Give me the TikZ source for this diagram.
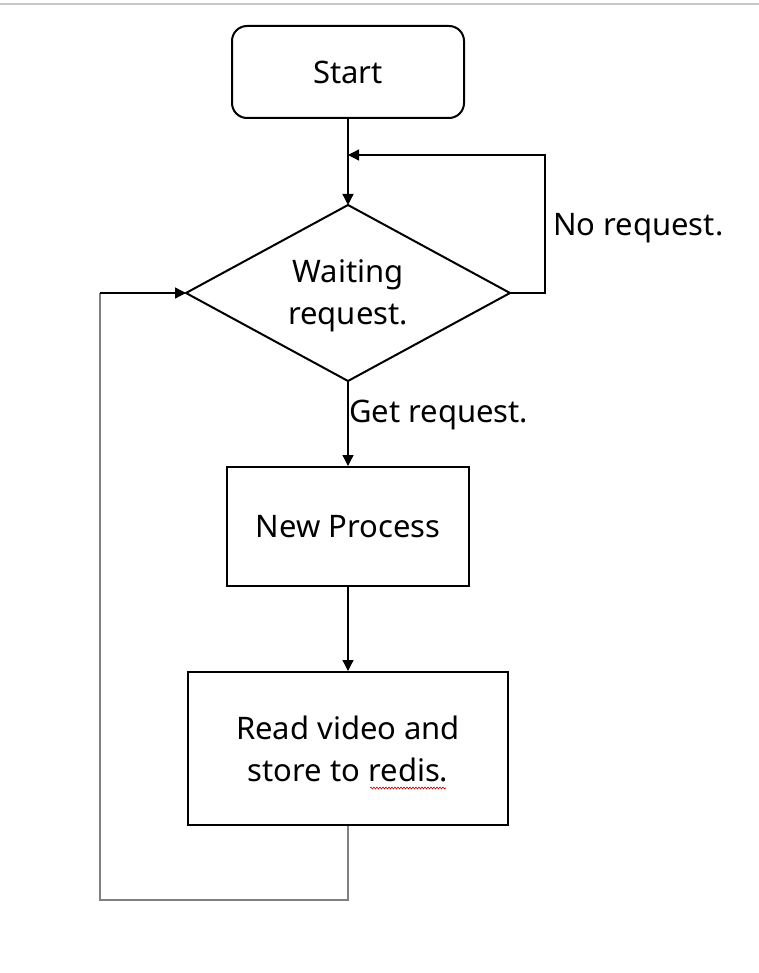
\documentclass[tikz,border=0pt]{standalone}
\usepackage{fontspec}
\setmainfont{Noto Sans}
\usetikzlibrary{arrows.meta,decorations.pathmorphing}
\begin{document}
\begin{tikzpicture}[x=1pt,y=-1pt,
  box/.style={draw=black,line width=2pt,inner sep=0pt},
  conn/.style={draw=black,line width=1.3pt,-{Triangle[length=11pt,width=11pt]}},
  loopline/.style={draw=gray,line width=1.8pt},
  txt/.style={font=\fontsize{31}{42}\selectfont,align=center,inner sep=0pt}]
\useasboundingbox (0,0) rectangle (759,973);
\draw[draw=black!22,line width=1.5pt] (0,4) -- (759,4);
% nodes
\node[box,rounded corners=15pt,minimum width=232pt,minimum height=92pt,txt] (start) at (348,72) {Start};
\coordinate (dtop) at (348,205);
\coordinate (dleft) at (186,293);
\coordinate (dright) at (510,293);
\coordinate (dbot) at (348,381);
\draw[line width=2pt,line join=miter] (dtop) -- (dright) -- (dbot) -- (dleft) -- cycle;
\node[txt] (wait) at (348,296) {Waiting\\request.};
\node[box,minimum width=242pt,minimum height=119pt,txt] (newp) at (348,526.5) {New Process};
\node[box,minimum width=320pt,minimum height=153pt,txt] (read) at (348,748.5) {Read video and\\store to redis.};
% squiggle under redis
\draw[red!80!black,line width=0.6pt,decorate,decoration={snake,amplitude=1pt,segment length=3pt}] (370,788) -- (446,788);
% connectors
\draw[conn] (start.south) -- (dtop);
\coordinate (nr1) at (545,293);
\coordinate (nr2) at (545,155);
\coordinate (nr3) at (348,155);
\draw[conn] (dright) -- (nr1) -- (nr2) -- (nr3);
\node[txt,anchor=west] (nolab) at (553,228) {No request.};
\draw[conn] (dbot) -- (newp.north);
\node[txt,anchor=west] (getlab) at (349,415) {Get request.};
\draw[conn] (newp.south) -- (read.north);
\coordinate (l1) at (348,900);
\coordinate (l2) at (100,900);
\coordinate (l3) at (100,293);
\draw[loopline] (read.south) -- (l1) -- (l2) -- (l3);
\draw[conn] (l3) -- (dleft);
\end{tikzpicture}
\end{document}
